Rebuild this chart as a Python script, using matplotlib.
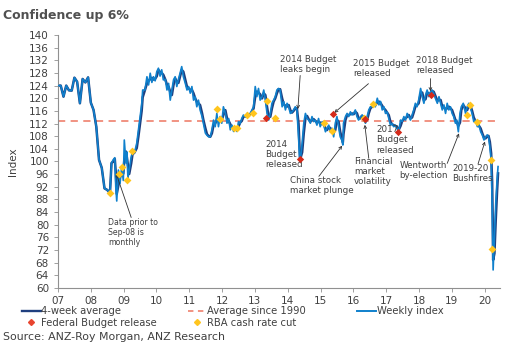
import matplotlib
matplotlib.use("Agg")
import matplotlib.pyplot as plt
from matplotlib.lines import Line2D
import pandas as pd

# monthly readings before Sep-08 (decimal years)
monthly_dates = [2007.0, 2007.083, 2007.167, 2007.25, 2007.333, 2007.417, 2007.5,
                 2007.583, 2007.667, 2007.75, 2007.833, 2007.917, 2008.0, 2008.083,
                 2008.167, 2008.25, 2008.333, 2008.417, 2008.5, 2008.583]
monthly_values = [124, 124, 120.5, 124, 122.5, 122.4, 126.5,
                  125.2, 118.4, 126.1, 125, 126.6, 118.6, 116.3,
                  111, 100.5, 98, 91.5, 91, 90]

# weekly index from Sep-08 (roughly every 2-3 weeks)
weekly_dates = [
    2008.63, 2008.68, 2008.73, 2008.76, 2008.79, 2008.84, 2008.89, 2008.94, 2008.99,
    2009.02, 2009.07, 2009.10, 2009.13, 2009.17, 2009.23, 2009.27, 2009.33, 2009.40,
    2009.45, 2009.50, 2009.55, 2009.58, 2009.65, 2009.71, 2009.76, 2009.81, 2009.86,
    2009.91, 2009.96, 2010.01, 2010.06, 2010.11, 2010.16, 2010.21, 2010.27, 2010.32,
    2010.37, 2010.42, 2010.47, 2010.52, 2010.57, 2010.62, 2010.67, 2010.72, 2010.77,
    2010.82, 2010.88, 2010.93, 2010.98, 2011.03, 2011.08, 2011.13, 2011.18, 2011.23,
    2011.28, 2011.33, 2011.39, 2011.43, 2011.49, 2011.54, 2011.59, 2011.64, 2011.69,
    2011.74, 2011.79, 2011.84, 2011.89, 2011.94, 2011.99, 2012.04, 2012.10, 2012.15,
    2012.20, 2012.25, 2012.30, 2012.35, 2012.40, 2012.45, 2012.50, 2012.55, 2012.60,
    2012.65, 2012.71, 2012.76, 2012.81, 2012.86, 2012.91, 2012.96, 2013.01, 2013.06,
    2013.11, 2013.16, 2013.22, 2013.27, 2013.32, 2013.37, 2013.42, 2013.47, 2013.52,
    2013.57, 2013.62, 2013.67, 2013.72, 2013.77, 2013.83, 2013.88, 2013.93, 2013.98,
    2014.03, 2014.08, 2014.13, 2014.18, 2014.23, 2014.28, 2014.33, 2014.36, 2014.38,
    2014.44, 2014.49, 2014.54, 2014.59, 2014.64, 2014.69, 2014.74, 2014.79, 2014.84,
    2014.89, 2014.94, 2014.99, 2015.05, 2015.10, 2015.15, 2015.20, 2015.25, 2015.30,
    2015.35, 2015.40, 2015.45, 2015.50, 2015.55, 2015.60, 2015.65, 2015.68, 2015.70,
    2015.76, 2015.81, 2015.86, 2015.91, 2015.96, 2016.01, 2016.06, 2016.11, 2016.16,
    2016.22, 2016.27, 2016.32, 2016.37, 2016.42, 2016.47, 2016.52, 2016.57, 2016.62,
    2016.67, 2016.73, 2016.78, 2016.83, 2016.88, 2016.93, 2016.98, 2017.03, 2017.08,
    2017.13, 2017.18, 2017.23, 2017.28, 2017.33, 2017.38, 2017.44, 2017.49, 2017.54,
    2017.59, 2017.64, 2017.69, 2017.74, 2017.79, 2017.84, 2017.89, 2017.94, 2017.99,
    2018.05, 2018.10, 2018.15, 2018.20, 2018.25, 2018.30, 2018.35, 2018.40, 2018.45,
    2018.50, 2018.56, 2018.61, 2018.66, 2018.71, 2018.76, 2018.81, 2018.86, 2018.91,
    2018.96, 2019.01, 2019.06, 2019.11, 2019.15, 2019.20, 2019.25, 2019.29, 2019.35,
    2019.42, 2019.47, 2019.52, 2019.57, 2019.62, 2019.67, 2019.72, 2019.78, 2019.83,
    2019.88, 2019.93, 2019.98, 2020.03, 2020.08, 2020.12, 2020.16, 2020.20, 2020.23,
    2020.25, 2020.26, 2020.30, 2020.34, 2020.38, 2020.41]
weekly_values = [
    99.5, 100.5, 101.2, 92, 87.5, 97.3, 93, 98.3, 94,
    106.8, 99.5, 103, 94.8, 97.3, 101.5, 103, 102.7, 105.8,
    110, 114, 118, 122.6, 122.6, 126.8, 124.2, 127.9, 125,
    126.8, 125.5, 128.4, 129.5, 127, 129, 125.8, 126, 122.6,
    124.7, 119.4, 122.6, 125.8, 126.8, 123.7, 126, 127.9, 130,
    126.8, 124.7, 122.6, 123.7, 121.6, 123.7, 119.4, 120.5, 117.3,
    119.4, 116.3, 114.2, 112.1, 109, 108.3, 107.8, 107.8, 110,
    113.1, 111, 115.2, 111, 114.2, 112.1, 117.3, 115.2, 112.1,
    113.6, 110, 111.5, 109.5, 111, 109.5, 112.6, 112, 113.6,
    114.7, 114, 115.2, 114.7, 115.2, 116.3, 117.3, 123.7, 120.5,
    123.1, 119.4, 120.5, 122.6, 119.4, 115.2, 113.1, 115.2, 118.4,
    119.4, 120.5, 122.6, 123.1, 122.6, 117.3, 118.9, 116.3, 118.4,
    117.3, 115.2, 115.7, 116.3, 117.3, 116.3, 107.8, 101.5, 100,
    105.8, 112.1, 115.2, 113.6, 113.1, 112.1, 114.2, 112.6, 113.1,
    111.5, 113.6, 111, 112.6, 111.5, 109.4, 110.5, 111.5, 109.4,
    110.5, 107.8, 112.1, 114.2, 111, 107.8, 106.8, 105.2, 112.1,
    114.2, 115.2, 114.2, 115.7, 114.7, 115.2, 116.3, 114.2, 113.1,
    114.2, 114.7, 113.1, 112.1, 114.2, 116.3, 117.3, 117.3, 118.4,
    117.3, 120, 117.9, 119, 116.3, 117.3, 115.2, 115.7, 113.6,
    111.5, 112, 111, 111.5, 110.5, 109.4, 113.1, 112.6, 114.2,
    113.1, 115.2, 114.2, 113.1, 114.7, 116.3, 118.4, 117.3, 119.4,
    123.1, 120.5, 118.4, 121, 122.6, 120.5, 122, 122.6, 121.5,
    120, 118.4, 120.5, 118.4, 116.3, 117.9, 115.2, 118.4, 116.3,
    117.3, 115.2, 114.2, 112.1, 113.1, 109.4, 115.2, 117.3, 118.4,
    115.2, 117.3, 118.4, 116.8, 115.2, 112.6, 113.1, 111, 111.5,
    109.4, 108.4, 106.8, 107.8, 108.4, 107.8, 104.7, 100.5, 86.8,
    72, 65.7, 76.2, 86.8, 94.1, 98.4]

avg_since_1990 = 112.9

budget_dates = [2013.35, 2014.37, 2015.37, 2016.35, 2017.37, 2018.38]
budget_values = [113.6, 100.8, 114.9, 113.3, 109.4, 121.0]

rba_dates = [2008.59, 2008.86, 2008.94, 2009.10, 2009.27, 2011.84, 2011.94,
             2012.35, 2012.45, 2012.76, 2012.94, 2013.37, 2013.60, 2015.12,
             2015.35, 2016.34, 2016.60, 2019.45, 2019.54, 2019.76, 2020.20, 2020.23]
rba_values = [90.1, 96, 98.4, 94.2, 103.4, 116.5, 113.4,
              110.5, 110.5, 114.7, 115.2, 119.1, 113.9, 112.1,
              109.7, 113.9, 118.1, 114.7, 117.9, 112.4, 100.5, 72.2]

year_ticks = list(range(2007, 2021))
year_labels = ["%02d" % (y % 100) for y in year_ticks]

# 4-week average: rolling mean over the weekly readings
weekly = pd.Series(weekly_values, index=weekly_dates)
four_week = weekly.rolling(2, min_periods=1).mean()

dark_blue = "#1f3f7f"
light_blue = "#0f80cc"
text_col = "#404040"

fig = plt.figure(figsize=(5.12, 3.45), dpi=100)
ax = fig.add_axes([0.1133, 0.1652, 0.8633, 0.7334])

ax.plot(monthly_dates + list(four_week.index), monthly_values + list(four_week.values),
        color=dark_blue, lw=1.8, zorder=2)
ax.plot(monthly_dates + weekly_dates, monthly_values + weekly_values,
        color=light_blue, lw=1.2, zorder=3)
ax.axhline(avg_since_1990, color="#f08a78", lw=1.3, ls=(0, (4, 3)), zorder=1)
ax.scatter(budget_dates, budget_values, marker="D", s=14, color="#d42a1a", zorder=5, lw=0)
ax.scatter(rba_dates, rba_values, marker="D", s=16, color="#ffc51e", zorder=4, lw=0)

ax.set_xlim(2007, 2020.47)
ax.set_ylim(60, 140)
ax.set_yticks(range(60, 141, 4))
ax.set_xticks(year_ticks)
ax.set_xticklabels(year_labels)
ax.tick_params(labelsize=7.5, colors=text_col, length=3, width=0.6)
ax.tick_params(axis="both", color="#909090")
ax.tick_params(axis="x", pad=2.5)
for s in ["top", "right"]:
    ax.spines[s].set_visible(False)
for s in ["left", "bottom"]:
    ax.spines[s].set_color("#909090")
    ax.spines[s].set_linewidth(0.8)
ax.set_ylabel("Index", fontsize=7.5, color=text_col, labelpad=8)

# annotations
afs = 6.3
arrow = dict(arrowstyle="->", color="#303030", lw=0.6, shrinkA=0, shrinkB=0,
             mutation_scale=5)
ax.text(2008.52, 82.2, "Data prior to\nSep-08 is\nmonthly", fontsize=5.6,
        color=text_col, va="top", ha="left", linespacing=1.15)
ax.annotate("", xy=(2008.77, 96.3), xytext=(2009.23, 82.3), arrowprops=arrow)

ax.text(2013.75, 133.8, "2014 Budget\nleaks begin", fontsize=afs, color=text_col,
        va="top", ha="left", linespacing=1.15)
ax.annotate("", xy=(2014.31, 116.6), xytext=(2014.38, 127.2), arrowprops=arrow)

ax.text(2015.99, 132.3, "2015 Budget\nreleased", fontsize=afs, color=text_col,
        va="top", ha="left", linespacing=1.15)
ax.annotate("", xy=(2015.42, 115.4), xytext=(2016.46, 124.6), arrowprops=arrow)

ax.text(2017.92, 133.5, "2018 Budget\nreleased", fontsize=afs, color=text_col,
        va="top", ha="left", linespacing=1.15)
ax.annotate("", xy=(2018.35, 122.2), xytext=(2018.35, 126.2), arrowprops=arrow)

ax.text(2013.32, 106.8, "2014\nBudget\nreleased", fontsize=afs, color=text_col,
        va="top", ha="left", linespacing=1.15)

ax.text(2014.08, 95.5, "China stock\nmarket plunge", fontsize=afs, color=text_col,
        va="top", ha="left", linespacing=1.15)
ax.annotate("", xy=(2015.66, 105.0), xytext=(2014.95, 95.3), arrowprops=arrow)

ax.text(2016.02, 101.3, "Financial\nmarket\nvolatility", fontsize=afs, color=text_col,
        va="top", ha="left", linespacing=1.15)
ax.annotate("", xy=(2016.35, 111.6), xytext=(2016.47, 101.0), arrowprops=arrow)

ax.text(2016.70, 111.4, "2017\nBudget\nreleased", fontsize=afs, color=text_col,
        va="top", ha="left", linespacing=1.15)

ax.text(2017.41, 100.2, "Wentworth\nby-election", fontsize=afs, color=text_col,
        va="top", ha="left", linespacing=1.15)
ax.annotate("", xy=(2019.22, 108.9), xytext=(2018.86, 99.4), arrowprops=arrow)

ax.text(2019.01, 99.2, "2019-20\nBushfires", fontsize=afs, color=text_col,
        va="top", ha="left", linespacing=1.15)
ax.annotate("", xy=(2020.01, 106.3), xytext=(2019.80, 99.2), arrowprops=arrow)

# title and source
fig.text(0.006, 0.975, "Confidence up 6%", fontsize=9, fontweight="bold",
         color="#505050", va="top", ha="left")
fig.text(0.006, 0.008, "Source: ANZ-Roy Morgan, ANZ Research", fontsize=7.9,
         color=text_col, va="bottom", ha="left")

# legend, three columns placed by hand
leg_kw = dict(frameon=False, fontsize=7.2, handlelength=1.9, handletextpad=0.05,
              borderpad=0, borderaxespad=0, labelspacing=0.12, labelcolor=text_col,
              loc="upper left")
h_4wk = Line2D([], [], color=dark_blue, lw=1.7)
h_fed = Line2D([], [], color="#e8452f", marker="D", ms=3, lw=0)
h_avg = Line2D([], [], color="#f08a78", lw=1.3, ls=(0, (3, 2.5)))
h_rba = Line2D([], [], color="#ffc51e", marker="D", ms=3, lw=0)
h_wk = Line2D([], [], color=light_blue, lw=1.4)
fig.legend([h_4wk, h_fed], ["4-week average", "Federal Budget release"],
           bbox_to_anchor=(0.042, 0.112), **leg_kw)
fig.legend([h_avg, h_rba], ["Average since 1990", "RBA cash rate cut"],
           bbox_to_anchor=(0.367, 0.112), **leg_kw)
fig.legend([h_wk], ["Weekly index"], bbox_to_anchor=(0.698, 0.112), **leg_kw)

fig.savefig("out.png", dpi=100)
